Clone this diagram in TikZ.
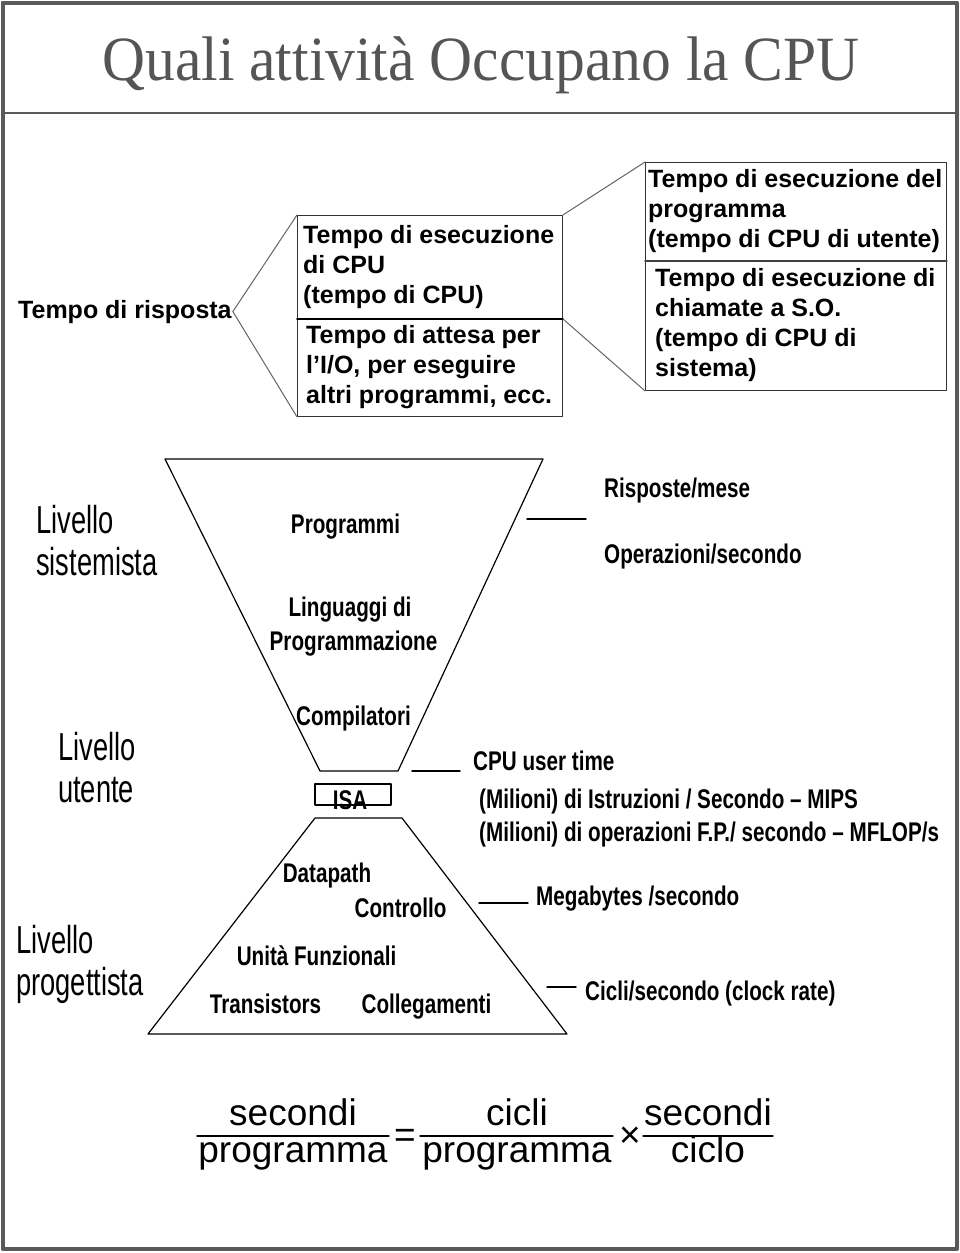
\documentclass[tikz,border=0pt]{standalone}
\usepackage{fontspec}
\setmainfont{Liberation Sans}
\newfontfamily\titlefont[FakeStretch=0.945]{Liberation Serif}
\newfontfamily\narrowfont[FakeStretch=0.765]{Liberation Sans}
\newfontfamily\livellofont[FakeStretch=0.70]{Liberation Sans}
\definecolor{cornice}{RGB}{90,90,90}
\definecolor{grigiotitolo}{RGB}{85,85,85}
\definecolor{grigiofilo}{RGB}{100,100,100}
\begin{document}
\begin{tikzpicture}[x=1pt, y=-1pt, line join=round, line cap=round,
  casella/.style={draw=black!80, line width=0.9pt, inner sep=0pt, anchor=north west},
  testo/.style={font=\bfseries\fontsize{25}{30}\selectfont, align=left, inner sep=0pt, anchor=west},
  voce/.style={font=\narrowfont\bfseries\fontsize{27}{30}\selectfont, inner sep=0pt},
  livello/.style={font=\livellofont\fontsize{39}{42}\selectfont, align=left, inner sep=0pt, anchor=north west},
  frazione/.style={font=\fontsize{37}{40}\selectfont, inner sep=0pt, anchor=base},
  filo/.style={draw=grigiofilo, line width=1pt},
  trattino/.style={line width=1.4pt}]
\useasboundingbox (0,0) rectangle (960,1253);
\draw[cornice, line width=4pt] (2.5,2.5) rectangle (957,1249);
\draw[cornice, line width=2pt] (2.5,113) -- (957,113);
\node[font=\titlefont\fontsize{63}{70}\selectfont, text=grigiotitolo, anchor=base, inner sep=0pt] (titolo) at (481,80) {Quali attività Occupano la CPU};

\node[font=\bfseries\fontsize{25}{30}\selectfont, anchor=base west, inner sep=1pt] (risposta) at (17,318) {Tempo di risposta};
\node[casella, minimum width=265pt, minimum height=103pt] (cpu) at (297,215) {};
\node[casella, minimum width=265pt, minimum height=98pt] (attesa) at (297,318) {};
\node[casella, minimum width=301pt, minimum height=98pt] (utente) at (645,162) {};
\node[casella, minimum width=301pt, minimum height=130pt] (sistema) at (645,260) {};
\draw[line width=2pt] (cpu.south west) -- (cpu.south east);
\draw[line width=1.5pt, draw=black!75] (utente.south west) -- (utente.south east);
\node[testo] (tcpu) at ([xshift=6pt]cpu.west) {Tempo di esecuzione\\di CPU\\(tempo di CPU)};
\node[testo] (tattesa) at ([xshift=9pt]attesa.west) {Tempo di attesa per\\l’I/O, per eseguire\\altri programmi, ecc.};
\node[testo] (tutente) at ([xshift=3pt]utente.west) {Tempo di esecuzione del\\programma\\(tempo di CPU di utente)};
\node[testo] (tsistema) at ([xshift=10pt]sistema.west) {Tempo di esecuzione di\\chiamate a S.O.\\(tempo di CPU di\\sistema)};
\draw[filo] (risposta.east) -- (cpu.north west);
\draw[filo] (risposta.east) -- (attesa.south west);
\draw[filo] (cpu.north east) -- (utente.north west);
\draw[filo] (cpu.south east) -- (sistema.south west);

\draw[line width=1.2pt] (165,459) -- (543,459) -- (398,771) -- (320,771) -- cycle;
\draw[line width=1.2pt] (315,818) -- (402,818) -- (567,1034) -- (148,1034) -- cycle;
\node[draw, line width=1.2pt, minimum width=76pt, minimum height=21pt, inner sep=0pt] (isa) at (353,794.5) {};
\node[voce, anchor=base] (tisa) at (350,809) {ISA};

\node[voce, anchor=base] (programmi) at (345.5,533) {Programmi};
\node[voce, anchor=base] (linguaggi) at (350,616) {Linguaggi di};
\node[voce, anchor=base] (programmazione) at (353.5,650) {Programmazione};
\node[voce, anchor=base] (compilatori) at (353.5,725) {Compilatori};
\node[voce, anchor=base] (datapath) at (327,882) {Datapath};
\node[voce, anchor=base] (controllo) at (400.5,917) {Controllo};
\node[voce, anchor=base] (funzionali) at (316.5,965) {Unità Funzionali};
\node[voce, anchor=base] (transistors) at (265.5,1013) {Transistors};
\node[voce, anchor=base] (collegamenti) at (426.5,1013) {Collegamenti};

\node[voce, anchor=base west] (risposte) at (604,497) {Risposte/mese};
\node[voce, anchor=base west] (operazioni) at (604,563) {Operazioni/secondo};
\node[voce, anchor=base west] (usertime) at (473,770) {CPU user time};
\node[voce, anchor=base west] (mips) at (479,808) {(Milioni) di Istruzioni / Secondo – MIPS};
\node[voce, anchor=base west] (mflops) at (479,841) {(Milioni) di operazioni F.P./ secondo – MFLOP/s};
\node[voce, anchor=base west] (megabytes) at (536,905) {Megabytes /secondo};
\node[voce, anchor=base west] (cicli) at (585,1000) {Cicli/secondo (clock rate)};
\draw[trattino] (527,519) -- (586,519);
\draw[trattino] (412,771) -- (460,771);
\draw[trattino] (479,903) -- (528,903);
\draw[trattino] (547,987) -- (576,987);

\node[livello] (sistemista) at (36,505) {Livello\\sistemista};
\node[livello] (utentelv) at (58,732) {Livello\\utente};
\node[livello] (progettista) at (16,925) {Livello\\progettista};

\node[frazione] (num1) at (293,1125) {secondi};
\node[frazione] (den1) at (293,1162) {programma};
\node[frazione] (uguale) at (405,1147) {=};
\node[frazione] (num2) at (517,1125) {cicli};
\node[frazione] (den2) at (517,1162) {programma};
\node[frazione] (per) at (630,1147) {×};
\node[frazione] (num3) at (708,1125) {secondi};
\node[frazione] (den3) at (708,1162) {ciclo};
\draw[line width=1.4pt] (197,1136) -- (389,1136);
\draw[line width=1.4pt] (420,1136) -- (613,1136);
\draw[line width=1.4pt] (643,1136) -- (773,1136);
\end{tikzpicture}
\end{document}
